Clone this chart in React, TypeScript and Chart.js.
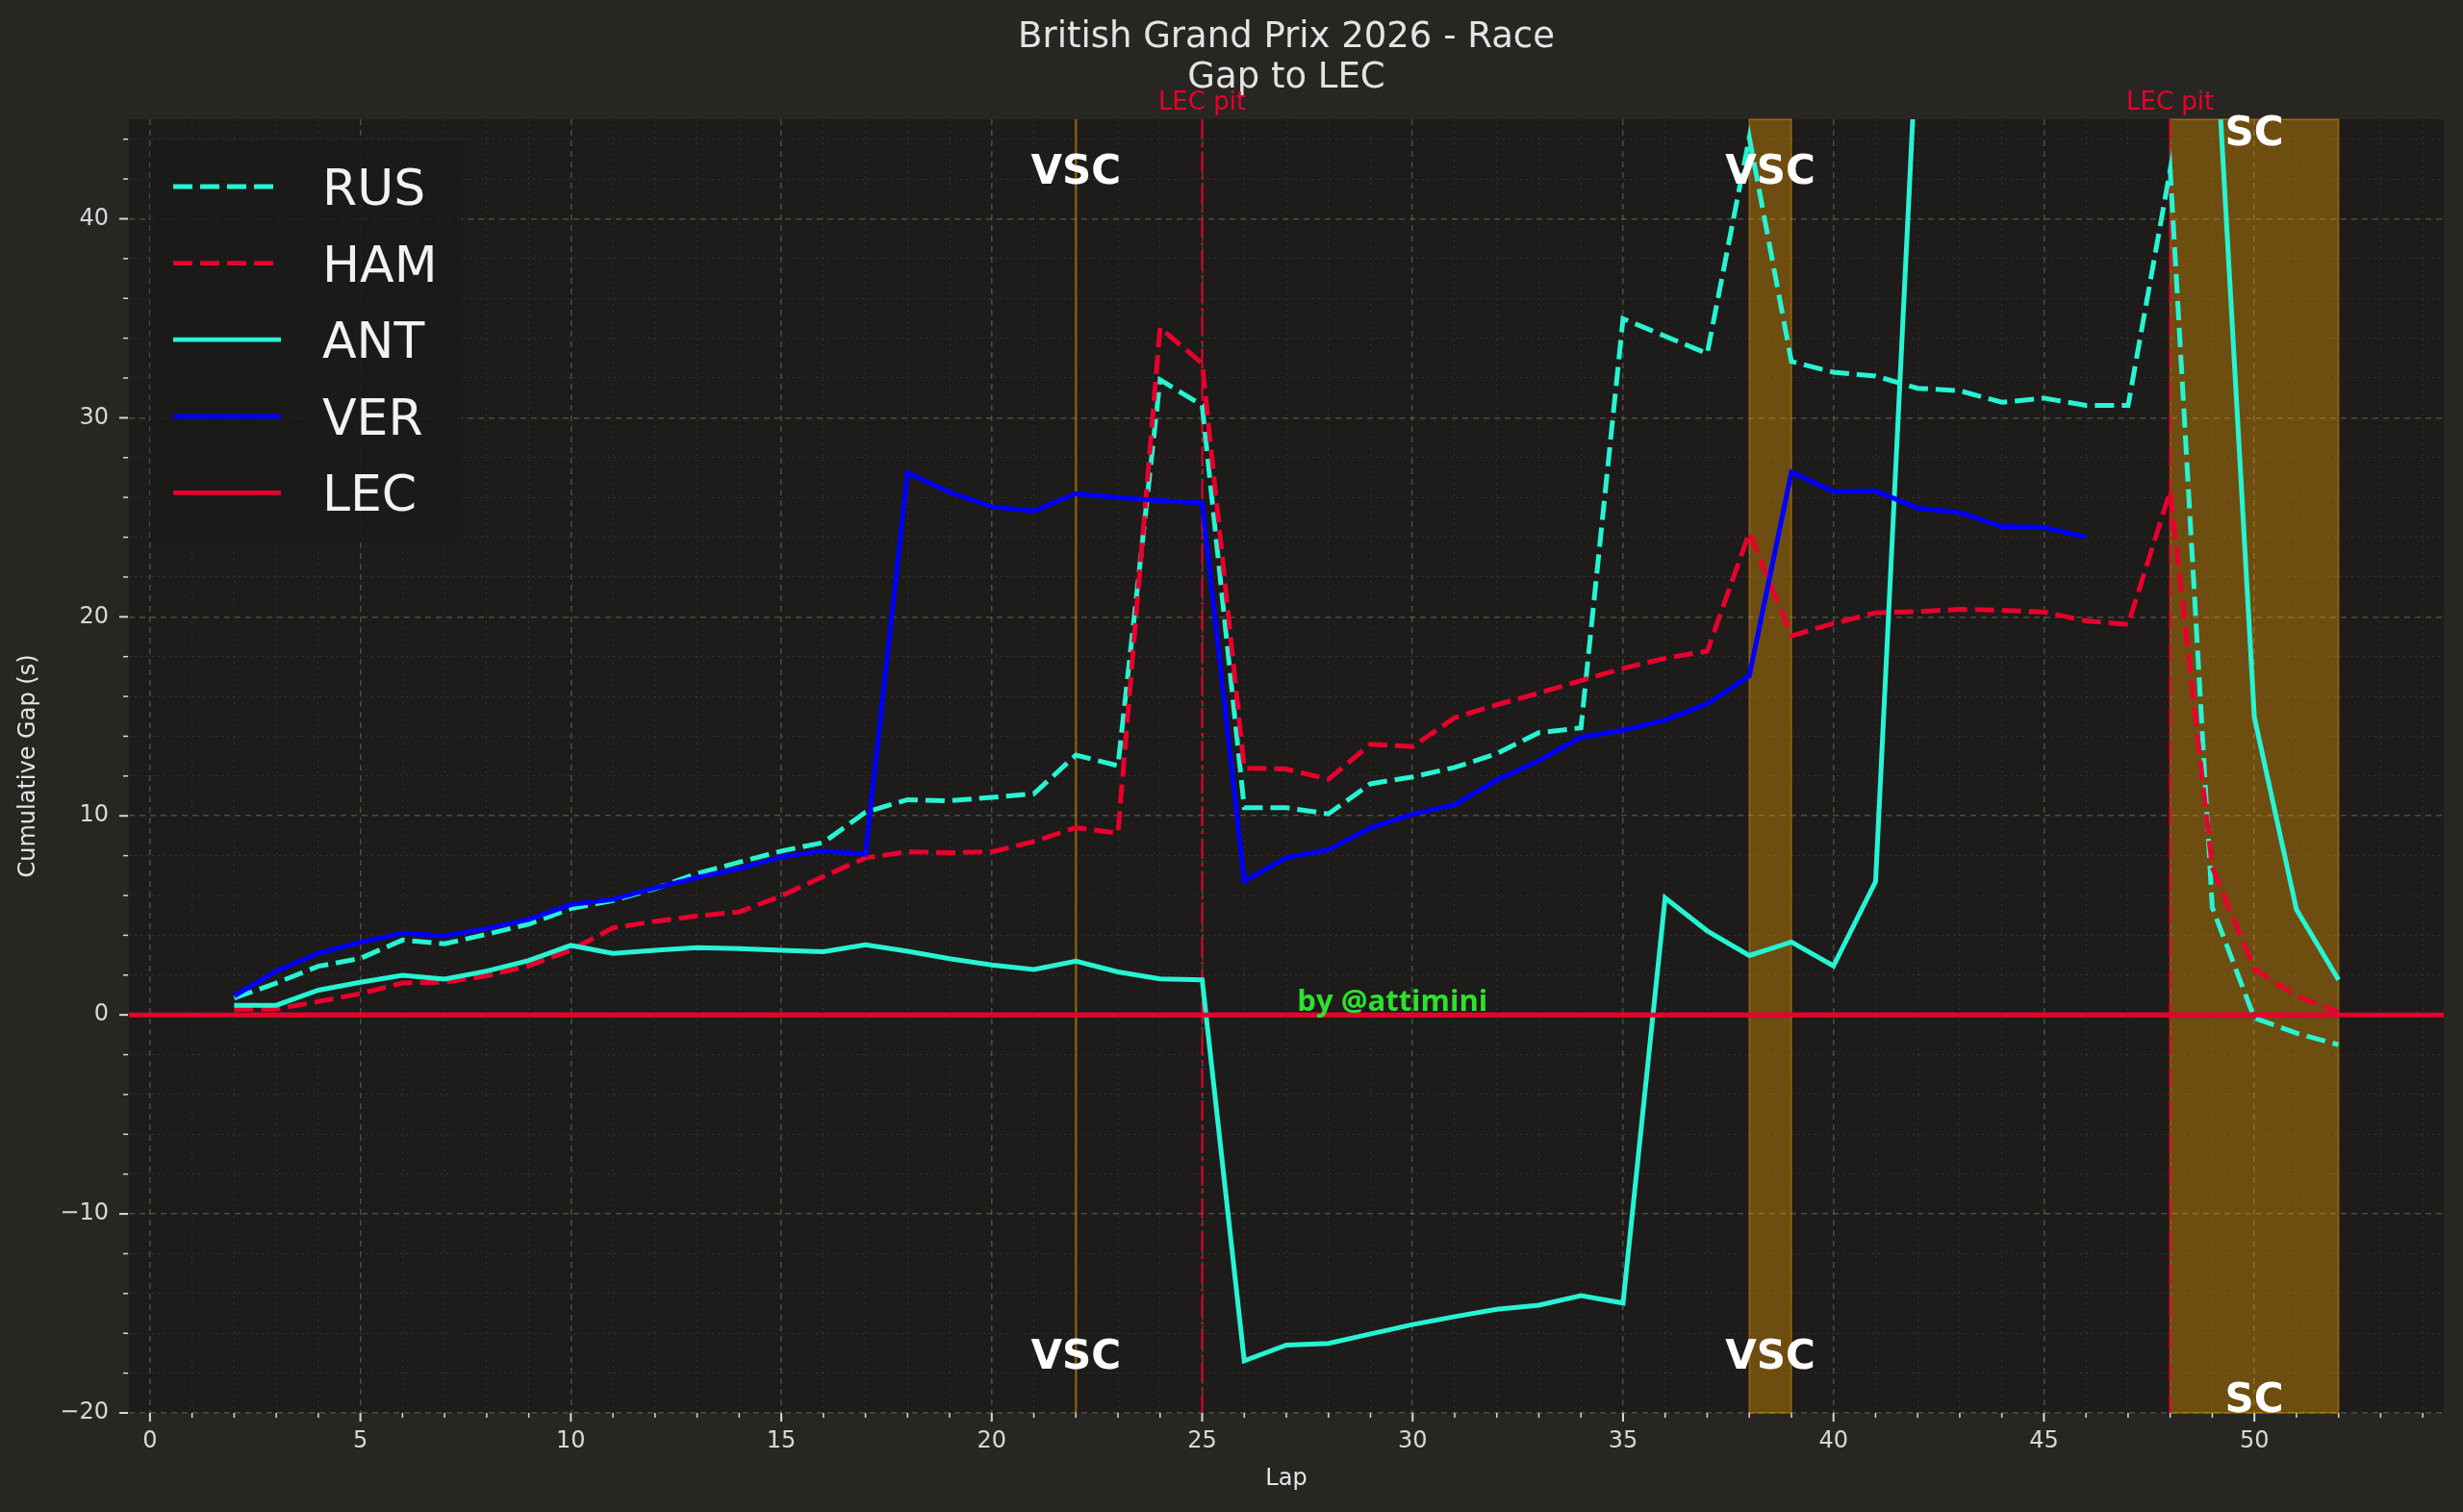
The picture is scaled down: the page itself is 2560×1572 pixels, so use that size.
import { useEffect, useRef } from 'react';
import { Chart, registerables } from 'chart.js';

Chart.register(...registerables);

// ---- data (gap to LEC in seconds, per lap) ----
const LAPS = [
  2, 3, 4, 5, 6, 7, 8, 9, 10, 11, 12, 13, 14, 15, 16, 17, 18, 19, 20, 21, 22, 23, 24, 25, 26, 27,
  28, 29, 30, 31, 32, 33, 34, 35, 36, 37, 38, 39, 40, 41, 42, 43, 44, 45, 46, 47, 48, 49, 50, 51, 52,
];
const VER_LAPS = [
  2, 3, 4, 5, 6, 7, 8, 9, 10, 11, 12, 13, 14, 15, 16, 17, 18, 19, 20, 21, 22, 23, 24, 25, 26, 27,
  28, 29, 30, 31, 32, 33, 34, 35, 36, 37, 38, 39, 40, 41, 42, 43, 44, 45, 46,
];

const RUS_GAP = [
  0.84, 1.6, 2.44, 2.84, 3.76, 3.57, 4.05, 4.56, 5.34, 5.74,
  6.35, 7.1, 7.67, 8.23, 8.66, 10.18, 10.81, 10.76, 10.93, 11.11,
  13.05, 12.52, 31.91, 30.63, 10.41, 10.41, 10.1, 11.61, 11.96, 12.43,
  13.13, 14.18, 14.42, 34.98, 34.1, 33.23, 44.08, 32.83, 32.29, 32.1,
  31.48, 31.36, 30.78, 30.99, 30.62, 30.62, 42.46, 5.4, -0.15, -0.92, -1.5,
];
const HAM_GAP = [
  0.27, 0.3, 0.67, 1.07, 1.6, 1.64, 1.96, 2.47, 3.25, 4.37,
  4.7, 4.97, 5.17, 5.98, 6.95, 7.89, 8.19, 8.15, 8.19, 8.71,
  9.41, 9.13, 34.53, 32.73, 12.4, 12.35, 11.84, 13.6, 13.48, 14.93,
  15.58, 16.17, 16.8, 17.41, 17.92, 18.27, 24.23, 19.04, 19.67, 20.2,
  20.26, 20.38, 20.33, 20.24, 19.8, 19.61, 26.32, 7.4, 2.3, 0.95, 0.15,
];
const ANT_GAP = [
  0.48, 0.48, 1.24, 1.64, 1.99, 1.8, 2.2, 2.73, 3.49, 3.09,
  3.25, 3.38, 3.33, 3.25, 3.17, 3.52, 3.2, 2.82, 2.51, 2.28,
  2.7, 2.16, 1.81, 1.76, -17.38, -16.59, -16.51, -16.03, -15.56, -15.16,
  -14.79, -14.59, -14.11, -14.48, 5.88, 4.22, 2.98, 3.66, 2.46, 6.7,
  50.1, 53, 55, 56, 57, 58, 56, 52.5, 14.95, 5.3, 1.76,
];
const VER_GAP = [
  0.95, 2.2, 3.1, 3.65, 4.1, 3.97, 4.34, 4.8, 5.54, 5.8,
  6.38, 6.9, 7.35, 7.94, 8.24, 8.08, 27.24, 26.26, 25.53, 25.32,
  26.19, 26.0, 25.84, 25.72, 6.72, 7.89, 8.3, 9.39, 10.09, 10.56,
  11.8, 12.78, 13.95, 14.3, 14.81, 15.63, 17.03, 27.27, 26.3, 26.33,
  25.46, 25.24, 24.53, 24.5, 24.01,
];
const LEC_GAP = LAPS.map(() => 0);

// ---- race events ----
const VSC_LINES = [22];
const VSC_BANDS = [[38, 39]];
const SC_BANDS = [[48, 52]];
const LEC_PITS = [25, 48];

// ---- axes ----
const X_MAJOR = [0, 5, 10, 15, 20, 25, 30, 35, 40, 45, 50];
const Y_MAJOR = [-20, -10, 0, 10, 20, 30, 40];
const X_TICKS = Array.from({ length: 55 }, (_, i) => i);
const Y_TICKS = Array.from({ length: 33 }, (_, i) => -20 + i * 2);

const TEAL = '#27F4D2';
const RED = '#E8002D';
const BLUE = '#0000FF';
const FIG_BG = '#282622';
const AX_BG = '#1d1c1a';
const TEXT = '#e4e4e4';
const FONT = "'DejaVu Sans'";
const DASH = [20, 8];

const pts = (laps: number[], vals: number[]) => laps.map((x, i) => ({ x, y: vals[i] }));

const overlay = {
  id: 'overlay',
  beforeDraw(chart: any) {
    const { ctx, chartArea: a } = chart;
    ctx.save();
    ctx.fillStyle = FIG_BG;
    ctx.fillRect(0, 0, chart.width, chart.height);
    ctx.fillStyle = AX_BG;
    ctx.fillRect(a.left, a.top, a.right - a.left, a.bottom - a.top);
    ctx.restore();
  },
  beforeDatasetsDraw(chart: any) {
    const { ctx, chartArea: a, scales: { x, y } } = chart;
    ctx.save();
    // VSC single-lap line
    VSC_LINES.forEach((lap) => {
      const px = x.getPixelForValue(lap);
      ctx.strokeStyle = 'rgba(255,165,0,0.45)';
      ctx.lineWidth = 2.5;
      ctx.beginPath();
      ctx.moveTo(px, a.top);
      ctx.lineTo(px, a.bottom);
      ctx.stroke();
    });
    // VSC / SC bands
    [...VSC_BANDS, ...SC_BANDS].forEach(([s, e]) => {
      const x0 = x.getPixelForValue(s);
      const x1 = x.getPixelForValue(e);
      ctx.fillStyle = 'rgba(255,165,0,0.36)';
      ctx.fillRect(x0, a.top, x1 - x0, a.bottom - a.top);
      ctx.strokeStyle = 'rgba(255,165,0,0.3)';
      ctx.lineWidth = 2;
      ctx.strokeRect(x0, a.top, x1 - x0, a.bottom - a.top);
    });
    // zero line
    const zy = y.getPixelForValue(0);
    ctx.strokeStyle = RED;
    ctx.lineWidth = 5;
    ctx.beginPath();
    ctx.moveTo(a.left, zy);
    ctx.lineTo(a.right, zy);
    ctx.stroke();
    // LEC pit lines
    ctx.lineWidth = 2;
    ctx.setLineDash([21, 5, 3, 5]);
    LEC_PITS.forEach((lap) => {
      const px = x.getPixelForValue(lap);
      ctx.beginPath();
      ctx.moveTo(px, a.top);
      ctx.lineTo(px, a.bottom);
      ctx.stroke();
    });
    ctx.restore();
  },
  afterDraw(chart: any) {
    const { ctx, chartArea: a, scales: { x, y } } = chart;
    ctx.save();

    // tick marks
    ctx.strokeStyle = '#d8d8d8';
    X_TICKS.forEach((v) => {
      const major = X_MAJOR.includes(v);
      const px = x.getPixelForValue(v);
      ctx.lineWidth = major ? 2 : 1.5;
      ctx.beginPath();
      ctx.moveTo(px, a.bottom);
      ctx.lineTo(px, a.bottom + (major ? 9 : 5));
      ctx.stroke();
    });
    Y_TICKS.forEach((v) => {
      const major = Y_MAJOR.includes(v);
      const py = y.getPixelForValue(v);
      ctx.lineWidth = major ? 2 : 1.5;
      ctx.beginPath();
      ctx.moveTo(a.left - 1, py);
      ctx.lineTo(a.left - (major ? 10 : 6), py);
      ctx.stroke();
    });

    // title
    const cx = (a.left + a.right) / 2;
    ctx.fillStyle = TEXT;
    ctx.textAlign = 'center';
    ctx.textBaseline = 'alphabetic';
    ctx.font = `37px ${FONT}`;
    ctx.fillText('British Grand Prix 2026 - Race', cx, 49);
    ctx.fillText('Gap to LEC', cx, 91);

    // axis titles
    ctx.font = `24px ${FONT}`;
    ctx.textBaseline = 'middle';
    ctx.fillText('Lap', cx, 1538);
    ctx.save();
    ctx.translate(30, (a.top + a.bottom) / 2);
    ctx.rotate(-Math.PI / 2);
    ctx.fillText('Cumulative Gap (s)', 0, 0);
    ctx.restore();

    // LEC pit labels
    ctx.fillStyle = RED;
    ctx.font = `26px ${FONT}`;
    ctx.textBaseline = 'alphabetic';
    LEC_PITS.forEach((lap) => ctx.fillText('LEC pit', x.getPixelForValue(lap), a.top - 10));

    // VSC / SC labels
    ctx.fillStyle = '#ffffff';
    ctx.font = `bold 42px ${FONT}`;
    VSC_LINES.forEach((lap) => {
      ctx.fillText('VSC', x.getPixelForValue(lap), y.getPixelForValue(41.75));
      ctx.fillText('VSC', x.getPixelForValue(lap), y.getPixelForValue(-17.78));
    });
    VSC_BANDS.forEach(([s, e]) => {
      const px = x.getPixelForValue((s + e) / 2);
      ctx.fillText('VSC', px, y.getPixelForValue(41.75));
      ctx.fillText('VSC', px, y.getPixelForValue(-17.78));
    });
    SC_BANDS.forEach(([s, e]) => {
      const px = x.getPixelForValue((s + e) / 2);
      ctx.fillText('SC', px, y.getPixelForValue(43.7));
      ctx.fillText('SC', px, y.getPixelForValue(-19.95));
    });

    // watermark
    ctx.fillStyle = '#2fe02f';
    ctx.font = `bold 31px 'Open Sans'`;
    ctx.textAlign = 'left';
    ctx.fillText('by @attimini', x.getPixelForValue(27.26), y.getPixelForValue(0.2));

    // legend
    const bx = a.left + 22;
    const by = a.top + 22;
    ctx.fillStyle = 'rgba(26,26,26,0.85)';
    ctx.beginPath();
    ctx.roundRect(bx, by, 324, 418, 8);
    ctx.fill();
    chart.data.datasets.forEach((ds: any, i: number) => {
      const cy = a.top + 70 + i * 79.6;
      ctx.strokeStyle = ds.borderColor;
      ctx.lineWidth = 4.8;
      ctx.setLineDash(ds.borderDash || []);
      ctx.beginPath();
      ctx.moveTo(a.left + 46, cy);
      ctx.lineTo(a.left + 158, cy);
      ctx.stroke();
      ctx.setLineDash([]);
      ctx.fillStyle = '#f2f2f2';
      ctx.font = `52px ${FONT}`;
      ctx.textAlign = 'left';
      ctx.fillText(ds.label, a.left + 201, cy + 19);
    });
    ctx.restore();
  },
};

export default function App() {
  const canvasRef = useRef<HTMLCanvasElement>(null);
  const chartRef = useRef<Chart | null>(null);

  useEffect(() => {
    if (!canvasRef.current) return;
    if (chartRef.current) chartRef.current.destroy();

    const line = (label: string, laps: number[], vals: number[], color: string, dashed: boolean, order: number) => ({
      label,
      data: pts(laps, vals),
      borderColor: color,
      backgroundColor: color,
      borderWidth: 5,
      borderDash: dashed ? DASH : [],
      pointRadius: 0,
      tension: 0,
      fill: false,
      order,
    });

    chartRef.current = new Chart(canvasRef.current, {
      type: 'line',
      data: {
        datasets: [
          line('RUS', LAPS, RUS_GAP, TEAL, true, 5),
          line('HAM', LAPS, HAM_GAP, RED, true, 4),
          line('ANT', LAPS, ANT_GAP, TEAL, false, 3),
          line('VER', VER_LAPS, VER_GAP, BLUE, false, 2),
          line('LEC', LAPS, LEC_GAP, RED, false, 1),
        ] as any,
      },
      options: {
        animation: false,
        responsive: true,
        maintainAspectRatio: false,
        layout: { padding: { left: 0, top: 124, right: 20, bottom: 0 } },
        plugins: {
          legend: { display: false },
          title: { display: false },
          tooltip: { enabled: false },
        },
        scales: {
          x: {
            type: 'linear',
            min: -0.5,
            max: 54.5,
            afterBuildTicks: (s: any) => {
              s.ticks = X_TICKS.map((value) => ({ value }));
            },
            afterFit: (s: any) => {
              s.height = 103;
            },
            ticks: {
              autoSkip: false,
              maxRotation: 0,
              padding: 15,
              color: '#d8d8d8',
              font: { family: 'DejaVu Sans', size: 24 },
              callback: (v: any) => (X_MAJOR.includes(v) ? String(v) : ''),
            },
            grid: {
              drawTicks: false,
              color: (c: any) => (X_MAJOR.includes(c.tick?.value) ? 'rgba(120,114,100,0.55)' : 'rgba(90,86,78,0.35)'),
              lineWidth: (c: any) => (X_MAJOR.includes(c.tick?.value) ? 1.5 : 1),
            },
            border: {
              display: false,
              dash: (c: any) => (X_MAJOR.includes(c.tick?.value) ? [6, 5] : [2, 4]),
            },
          },
          y: {
            type: 'linear',
            min: -20,
            max: 45,
            afterBuildTicks: (s: any) => {
              s.ticks = Y_TICKS.map((value) => ({ value }));
            },
            afterFit: (s: any) => {
              s.width = 134;
            },
            ticks: {
              autoSkip: false,
              padding: 21,
              color: '#d8d8d8',
              font: { family: 'DejaVu Sans', size: 24 },
              callback: (v: any) => (Y_MAJOR.includes(v) ? (v < 0 ? '\u2212' + Math.abs(v) : String(v)) : ''),
            },
            grid: {
              drawTicks: false,
              color: (c: any) => (Y_MAJOR.includes(c.tick?.value) ? 'rgba(120,114,100,0.55)' : 'rgba(90,86,78,0.35)'),
              lineWidth: (c: any) => (Y_MAJOR.includes(c.tick?.value) ? 1.5 : 1),
            },
            border: {
              display: false,
              dash: (c: any) => (Y_MAJOR.includes(c.tick?.value) ? [6, 5] : [2, 4]),
            },
          },
        },
      },
      plugins: [overlay],
    });

    return () => {
      if (chartRef.current) {
        chartRef.current.destroy();
        chartRef.current = null;
      }
    };
  }, []);

  return (
    <div style={{ position: 'absolute', left: 0, top: 0, width: 2560, height: 1572, background: FIG_BG }}>
      <canvas ref={canvasRef}></canvas>
    </div>
  );
}
